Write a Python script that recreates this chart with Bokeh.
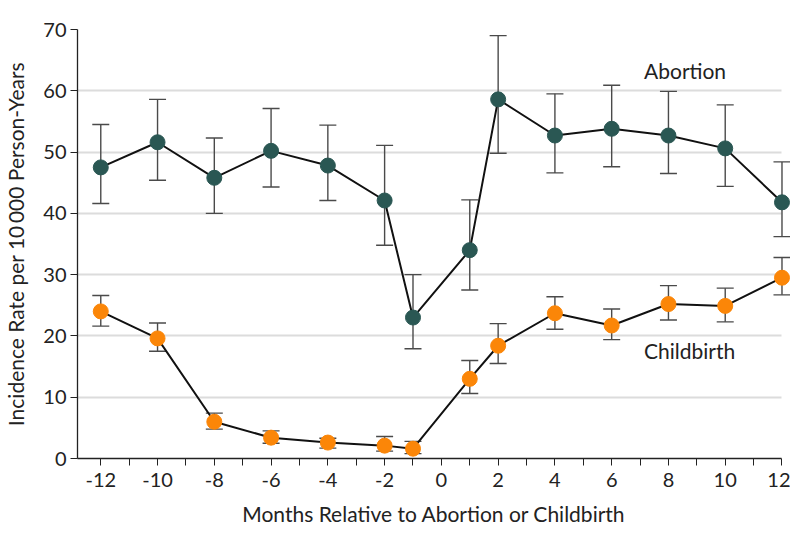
from bokeh.plotting import figure
from bokeh.models import FixedTicker, ColumnDataSource, Label, Range1d, Grid
from bokeh.embed import file_html
from bokeh.resources import INLINE

months = [-12, -10, -8, -6, -4, -2, -1, 1, 2, 4, 6, 8, 10, 12]
abortion = [47.5, 51.6, 45.8, 50.2, 47.8, 42.1, 23.0, 34.0, 58.6, 52.7, 53.8, 52.7, 50.6, 41.8]
abortion_lo = [41.6, 45.4, 40.0, 44.3, 42.1, 34.8, 17.9, 27.5, 49.8, 46.6, 47.6, 46.5, 44.4, 36.2]
abortion_hi = [54.5, 58.6, 52.3, 57.1, 54.4, 51.1, 30.0, 42.2, 69.0, 59.5, 60.9, 59.9, 57.7, 48.4]
childbirth = [24.0, 19.6, 6.0, 3.4, 2.6, 2.1, 1.6, 13.0, 18.4, 23.7, 21.7, 25.2, 24.9, 29.5]
childbirth_lo = [21.6, 17.5, 4.8, 2.5, 1.7, 1.2, 0.8, 10.6, 15.5, 21.1, 19.4, 22.6, 22.3, 26.7]
childbirth_hi = [26.6, 22.1, 7.4, 4.5, 3.3, 3.6, 2.8, 16.0, 22.0, 26.4, 24.4, 28.2, 27.8, 32.8]
x_ticks = [-12, -10, -8, -6, -4, -2, 0, 2, 4, 6, 8, 10, 12]
x_tick_labels = ["-12", "-10", "-8", "-6", "-4", "-2", "0", "2", "4", "6", "8", "10", "12"]
x_minor = [-11, -9, -7, -5, -3, -1, 1, 3, 5, 7, 9, 11]
y_ticks = [0, 10, 20, 30, 40, 50, 60, 70]

X_MIN, X_MAX = -12.82, 12.0

FONT = "Lato"
TEAL = "#2A5753"
ORANGE = "#FB8608"
ERR = "#4a4a4a"

p = figure(width=790, height=535, output_backend="svg", toolbar_location=None,
           x_range=Range1d(X_MIN, 12.3), y_range=Range1d(0, 70),
           min_border_left=72, min_border_right=0, min_border_top=29, min_border_bottom=77)
p.outline_line_color = None
p.xgrid.grid_line_color = None
p.ygrid.grid_line_color = "#dcdcdc"
p.ygrid.grid_line_width = 2
if "cross_bounds" in Grid.properties():
    p.ygrid.cross_bounds = (X_MIN, X_MAX)

p.xaxis.ticker = FixedTicker(ticks=x_ticks, minor_ticks=x_minor)
p.xaxis.major_label_overrides = {t: s for t, s in zip(x_ticks, x_tick_labels)}
p.xaxis.bounds = (X_MIN, X_MAX)
p.yaxis.ticker = FixedTicker(ticks=y_ticks)
for ax in (p.xaxis, p.yaxis):
    ax.axis_line_color = "#222222"
    ax.axis_line_width = 1.3
    ax.major_tick_line_color = "#222222"
    ax.minor_tick_line_color = "#222222"
    ax.major_tick_out = 7
    ax.major_tick_in = 0
    ax.minor_tick_out = 7
    ax.minor_tick_in = 0
    ax.major_label_text_font = FONT
    ax.major_label_text_font_size = "20px"
    ax.major_label_text_color = "#222222"
    ax.axis_label_text_font = FONT
    ax.axis_label_text_font_size = "21px"
    ax.axis_label_text_font_style = "normal"
    ax.axis_label_text_color = "#222222"
p.yaxis.minor_tick_out = 0
p.xaxis.major_label_standoff = 7
p.yaxis.major_label_standoff = 4
p.xaxis.axis_label = "Months Relative to Abortion or Childbirth"
p.yaxis.axis_label = "Incidence Rate per 10\u2009000 Person-Years"
p.xaxis.axis_label_standoff = 11
p.yaxis.axis_label_standoff = 12

src_a = ColumnDataSource(dict(x=months, y=abortion, lo=abortion_lo, hi=abortion_hi))
src_c = ColumnDataSource(dict(x=months, y=childbirth, lo=childbirth_lo, hi=childbirth_hi))

for src in (src_a, src_c):
    p.segment(x0="x", y0="lo", x1="x", y1="hi", source=src, line_color=ERR, line_width=1.4)
    p.scatter("x", "lo", source=src, marker="dash", size=17, line_color=ERR, line_width=1.4)
    p.scatter("x", "hi", source=src, marker="dash", size=17, line_color=ERR, line_width=1.4)

p.line("x", "y", source=src_a, line_color="#111111", line_width=2)
p.line("x", "y", source=src_c, line_color="#111111", line_width=2)
p.scatter("x", "y", source=src_a, size=15, fill_color=TEAL, line_color=TEAL)
p.scatter("x", "y", source=src_c, size=15, fill_color=ORANGE, line_color=ORANGE)

p.add_layout(Label(x=7.14, y=63.3, text="Abortion", text_font=FONT, text_font_size="21px",
                   text_color="#222222", text_baseline="middle", text_align="left"))
p.add_layout(Label(x=7.14, y=17.7, text="Childbirth", text_font=FONT, text_font_size="21px",
                   text_color="#222222", text_baseline="middle", text_align="left"))

open("out.html", "w").write(file_html(p, INLINE))
